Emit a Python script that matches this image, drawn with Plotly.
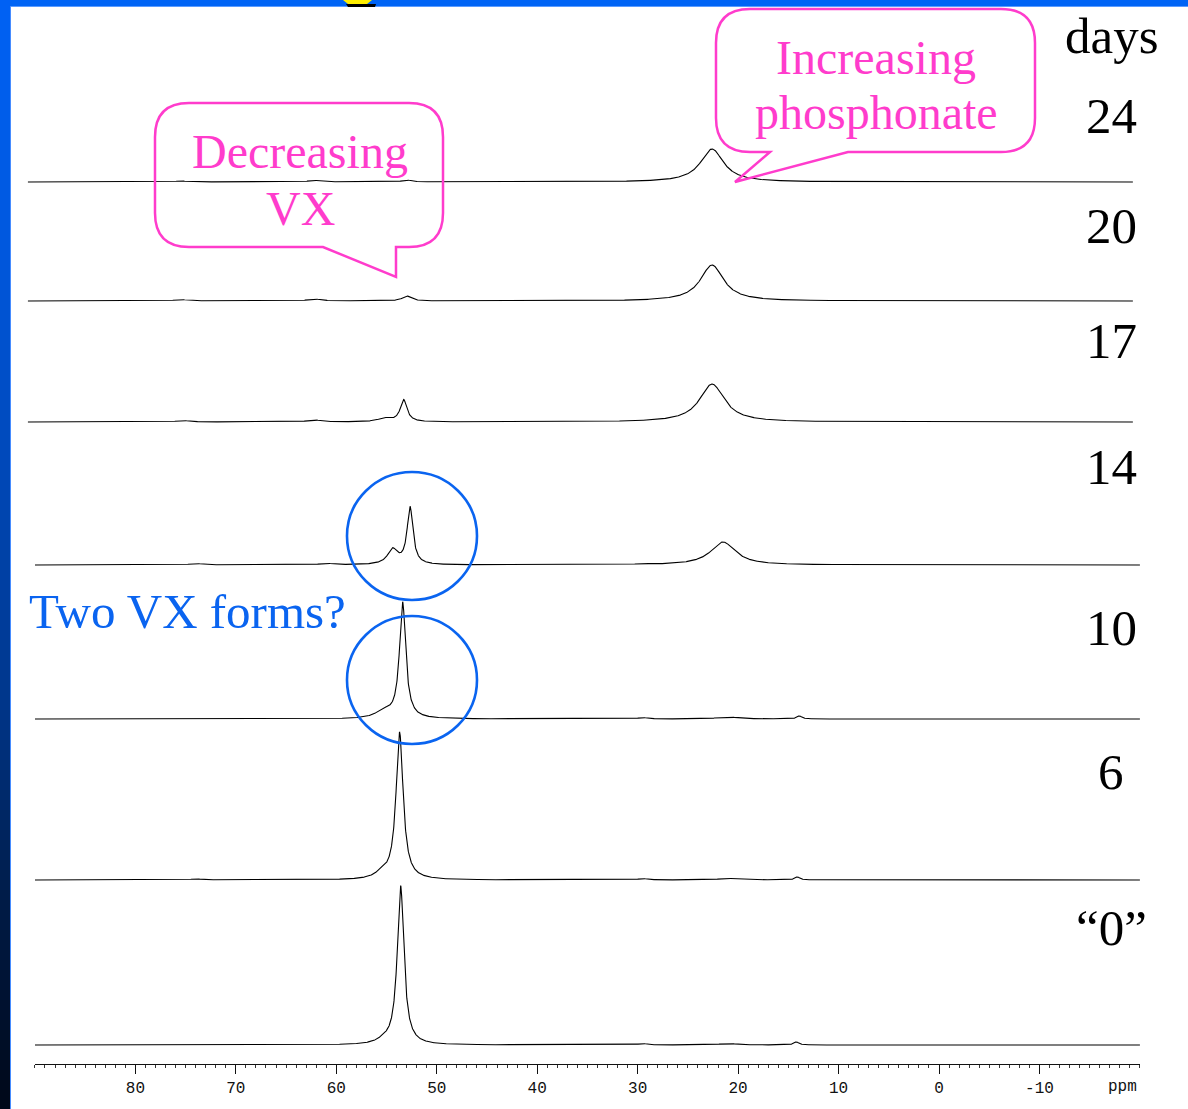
import numpy as np
import plotly.graph_objects as go

W, H = 1188, 1109

# ---------------- data ----------------
DAY_LABELS = ["24", "20", "17", "14", "10", "6", "\u201c0\u201d"]

# each signal: (chemical shift ppm, relative height, FWHM ppm)
PEAKS_DAY24 = [(22.6, 33.0, 2.8), (53.0, 2.0, 1.0), (62.2, 1.5, 1.5), (75.5, 1.0, 1.5)]
PEAKS_DAY20 = [(22.6, 36.0, 2.8), (53.0, 5.0, 1.0), (62.2, 2.0, 1.5), (75.5, 1.5, 1.5)]
PEAKS_DAY17 = [(22.6, 38.0, 3.0), (53.3, 22.0, 0.8), (55.2, 3.5, 1.5),
               (62.2, 2.0, 1.5), (75.3, 1.5, 1.5)]
PEAKS_DAY14 = [(52.66, 57.0, 0.7), (54.4, 15.0, 1.2), (21.5, 23.0, 3.0),
               (74.0, 1.5, 1.5), (61.0, 1.5, 1.5), (29.5, 1.0, 1.0)]
PEAKS_DAY10 = [(53.4, 116.0, 0.75), (55.3, 7.0, 1.8), (29.5, 1.5, 1.0),
               (21.0, 2.0, 2.5), (13.9, 3.0, 0.6)]
PEAKS_DAY6 = [(53.7, 147.0, 0.85), (55.5, 5.0, 1.5), (74.0, 1.0, 1.5),
              (29.5, 1.5, 1.0), (21.0, 1.5, 2.5), (14.1, 3.0, 0.6)]
PEAKS_DAY0 = [(53.6, 159.0, 0.8), (55.3, 3.0, 1.5), (29.5, 1.5, 1.0),
              (21.0, 1.5, 2.0), (14.2, 3.0, 0.6)]

SPECTRA_PEAKS = [PEAKS_DAY24, PEAKS_DAY20, PEAKS_DAY17, PEAKS_DAY14,
                 PEAKS_DAY10, PEAKS_DAY6, PEAKS_DAY0]

TICK_VALUES = [80, 70, 60, 50, 40, 30, 20, 10, 0, -10]
TICK_LABELS = ["80", "70", "60", "50", "40", "30", "20", "10", "0", "-10"]

# ---------------- layout constants ----------------
PX_PER_PPM = 10.045          # horizontal scale of the ppm axis
ZERO_PX = 939                # page x of 0 ppm
AXIS_RANGE = (90, -20)
AXIS_Y_PX = 1064

# vertical stacking: baseline of every trace (page px measured from the bottom)
STACK_BASE = [927, 808, 687, 544, 390, 229, 64]
# spectral window of each trace (ppm)
WINDOW = [(90.7, -19.3)] * 3 + [(90.0, -20.0)] * 4
LABEL_Y_PX = [116, 226, 341, 467, 628, 772, 928]

SERIF = "Liberation Serif, Times New Roman, serif"
MONO = "Liberation Mono, Courier New, monospace"
PINK = "#ff3ccc"
BLUE = "#0a64f0"


def lorentz_sum(x, peaks):
    y = np.zeros_like(x)
    for x0, h, w in peaks:
        y += h / (1.0 + ((x - x0) / (w / 2.0)) ** 2)
    return y


def px(xp, yp):
    """page pixel -> paper coordinates"""
    return xp / W, 1 - yp / H


fig = go.Figure()

for peaks, base, (left, right) in zip(SPECTRA_PEAKS, STACK_BASE, WINDOW):
    x = np.linspace(left, right, 5500)
    y = base + lorentz_sum(x, peaks)
    fig.add_trace(go.Scatter(x=x, y=y, mode="lines",
                             line=dict(color="black", width=1.1),
                             hoverinfo="skip", showlegend=False))

# empty trace that carries the visible ppm axis
fig.add_trace(go.Scatter(x=[], y=[], xaxis="x2", yaxis="y", showlegend=False))

x_left = ZERO_PX / PX_PER_PPM
x_right = (ZERO_PX - W) / PX_PER_PPM
dom0 = (ZERO_PX - AXIS_RANGE[0] * PX_PER_PPM) / W
dom1 = (ZERO_PX - AXIS_RANGE[1] * PX_PER_PPM) / W

fig.update_layout(
    width=W, height=H, autosize=False,
    margin=dict(l=0, r=0, t=0, b=0, pad=0),
    paper_bgcolor="white", plot_bgcolor="rgba(0,0,0,0)",
    xaxis=dict(range=[x_left, x_right], domain=[0, 1], visible=False),
    yaxis=dict(range=[0, H], domain=[0, 1], visible=False),
    xaxis2=dict(
        range=list(AXIS_RANGE), domain=[dom0, dom1],
        anchor="free", position=1 - AXIS_Y_PX / H, side="bottom",
        showline=True, linecolor="#111", linewidth=1,
        showgrid=False, zeroline=False,
        ticks="outside", ticklen=9, tickwidth=1, tickcolor="#111",
        tickvals=TICK_VALUES, ticktext=TICK_LABELS,
        tickfont=dict(family=MONO, size=16, color="#111"),
        minor=dict(ticks="outside", tick0=0, dtick=1, ticklen=3,
                   tickwidth=1, tickcolor="#333"),
    ),
)

shapes = []

# slide frame: blue band on top, gradient bar on the left
shapes.append(dict(type="rect", xref="paper", yref="paper",
                   x0=0, x1=1, y0=1 - 6 / H, y1=1,
                   fillcolor="rgb(0,100,245)", line_width=0, layer="above"))
shapes.append(dict(type="rect", xref="paper", yref="paper",
                   x0=11 / W, x1=1, y0=1 - 7 / H, y1=1 - 6 / H,
                   fillcolor="rgb(90,155,255)", line_width=0, layer="above"))
stops_y = [0, 250, 450, 700, 900, H]
stops_c = [(0, 98, 245), (0, 88, 222), (0, 74, 188), (0, 55, 140), (0, 28, 72), (0, 8, 24)]
strip = 10
for yy in range(0, H, strip):
    c = [int(np.interp(yy + strip / 2, stops_y, [s[i] for s in stops_c])) for i in range(3)]
    shapes.append(dict(type="rect", xref="paper", yref="paper",
                       x0=0, x1=10 / W, y0=1 - min(yy + strip, H) / H, y1=1 - yy / H,
                       fillcolor=f"rgb({c[0]},{c[1]},{c[2]})", line_width=0, layer="above"))
shapes.append(dict(type="rect", xref="paper", yref="paper",
                   x0=10 / W, x1=11 / W, y0=0, y1=1 - 6 / H,
                   fillcolor="rgb(70,140,255)", line_width=0, layer="above"))


def poly_path(pts):
    s = ""
    for i, (a, b) in enumerate(pts):
        u, v = px(a, b)
        s += ("M" if i == 0 else "L") + f"{u:.5f},{v:.5f} "
    return s + "Z"


# small emblem on the top band
shapes.append(dict(type="path", xref="paper", yref="paper",
                   path=poly_path([(346, 4), (376, 4), (375, 7), (348, 7)]),
                   fillcolor="black", line_width=0, layer="above"))
shapes.append(dict(type="path", xref="paper", yref="paper",
                   path=poly_path([(343, 0), (372, 0), (367, 4), (348, 4)]),
                   fillcolor="#ffee00", line_width=0, layer="above"))


def callout_path(x0, y0, x1, y1, r, tail):
    """rounded box with a pointer; tail = [right base, tip, left base] in page px"""
    def p(a, b):
        u, v = px(a, b)
        return f"{u:.5f},{v:.5f}"
    d = f"M{p(x0 + r, y0)} L{p(x1 - r, y0)} Q{p(x1, y0)} {p(x1, y0 + r)} "
    d += f"L{p(x1, y1 - r)} Q{p(x1, y1)} {p(x1 - r, y1)} "
    for a, b in tail:
        d += f"L{p(a, b)} "
    d += f"L{p(x0 + r, y1)} Q{p(x0, y1)} {p(x0, y1 - r)} "
    d += f"L{p(x0, y0 + r)} Q{p(x0, y0)} {p(x0 + r, y0)} Z"
    return d


shapes.append(dict(type="path", xref="paper", yref="paper",
                   path=callout_path(716, 9, 1035, 152, 34,
                                     [(848, 152), (735, 182), (770, 152)]),
                   line=dict(color=PINK, width=2.5), fillcolor="rgba(0,0,0,0)",
                   layer="above"))
shapes.append(dict(type="path", xref="paper", yref="paper",
                   path=callout_path(155, 103, 443, 247, 34,
                                     [(396, 247), (396, 277), (323, 247)]),
                   line=dict(color=PINK, width=2.5), fillcolor="rgba(0,0,0,0)",
                   layer="above"))

# circles around the split VX resonance
for cy in (536, 680):
    a0, b0 = px(347, cy + 64)
    a1, b1 = px(477, cy - 64)
    shapes.append(dict(type="circle", xref="paper", yref="paper",
                       x0=a0, x1=a1, y0=b0, y1=b1,
                       line=dict(color=BLUE, width=2.6), layer="above"))

fig.update_layout(shapes=shapes)

ann = []


def text(xp, yp, s, size, color, family=SERIF):
    u, v = px(xp, yp)
    ann.append(dict(x=u, y=v, xref="paper", yref="paper", text=s, showarrow=False,
                    xanchor="center", yanchor="middle",
                    font=dict(family=family, size=size, color=color)))


text(1111, 36, "days", 51, "black")
for lab, yp in zip(DAY_LABELS, LABEL_Y_PX):
    text(1111, yp, lab, 51, "black")

text(876, 57, "Increasing", 48, PINK)
text(876, 113, "phosphonate", 48, PINK)
text(300, 151, "Decreasing", 48, PINK)
text(300, 208, "VX", 48, PINK)
text(187, 611, "Two VX forms?", 49, BLUE)
text(1122, 1087, "ppm", 16, "#111", MONO)

fig.update_layout(annotations=ann)

fig.write_html("out.html")
